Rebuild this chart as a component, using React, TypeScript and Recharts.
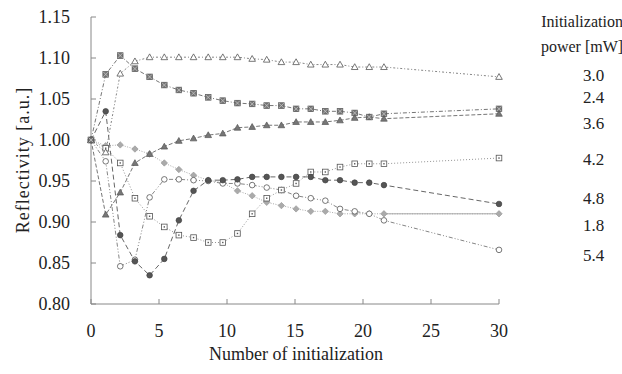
import React from 'react'
import { LineChart, Line, XAxis, YAxis } from 'recharts'

const FONT = "'Liberation Serif', 'Times New Roman', Times, 'DejaVu Serif', serif"

// where each measured point sits on the x axis (runs 0..20, then 30)
const xPos = [0, 1.08, 2.15, 3.23, 4.31, 5.39, 6.46, 7.54, 8.62, 9.69, 10.77, 11.85, 12.92, 14.0, 15.08, 16.16, 17.23, 18.31, 19.39, 20.46, 21.54, 30]

const p30 = [1.0, 0.985, 1.081, 1.096, 1.101, 1.101, 1.101, 1.101, 1.101, 1.101, 1.101, 1.099, 1.098, 1.095, 1.095, 1.092, 1.092, 1.092, 1.089, 1.089, 1.089, 1.077]
const p24 = [1.0, 1.08, 1.103, 1.087, 1.077, 1.067, 1.061, 1.057, 1.052, 1.048, 1.045, 1.044, 1.042, 1.042, 1.038, 1.038, 1.035, 1.035, 1.033, 1.028, 1.032, 1.038]
const p36 = [1.0, 0.909, 0.936, 0.972, 0.983, 0.992, 0.999, 1.002, 1.006, 1.008, 1.015, 1.016, 1.018, 1.018, 1.022, 1.022, 1.022, 1.024, 1.027, 1.028, 1.026, 1.032]
const p42 = [1.0, 0.99, 0.972, 0.929, 0.907, 0.894, 0.884, 0.881, 0.875, 0.875, 0.886, 0.91, 0.929, 0.939, 0.947, 0.961, 0.961, 0.967, 0.971, 0.971, 0.971, 0.978]
const p48 = [1.0, 1.035, 0.884, 0.852, 0.835, 0.855, 0.902, 0.938, 0.951, 0.951, 0.952, 0.955, 0.955, 0.955, 0.955, 0.955, 0.951, 0.951, 0.948, 0.948, 0.945, 0.922]
const p18 = [1.0, 0.993, 0.994, 0.989, 0.983, 0.972, 0.964, 0.957, 0.951, 0.948, 0.938, 0.932, 0.924, 0.92, 0.916, 0.913, 0.913, 0.91, 0.91, 0.91, 0.91, 0.91]
const p54 = [1.0, 0.974, 0.846, 0.854, 0.93, 0.952, 0.952, 0.951, 0.95, 0.947, 0.947, 0.945, 0.942, 0.939, 0.932, 0.929, 0.926, 0.916, 0.913, 0.91, 0.902, 0.866]

const xTicks = [0, 5, 10, 15, 20, 25, 30]
const yTicks = [0.8, 0.85, 0.9, 0.95, 1.0, 1.05, 1.1, 1.15]
const powerLabels = ['3.0', '2.4', '3.6', '4.2', '4.8', '1.8', '5.4']

const data = xPos.map((x, i) => ({
  x,
  p30: p30[i],
  p24: p24[i],
  p36: p36[i],
  p42: p42[i],
  p48: p48[i],
  p18: p18[i],
  // last stretch of the 1.8 mW curve is drawn solid
  p18tail: i >= xPos.length - 2 ? p18[i] : null,
  p54: p54[i],
}))

// text positions for the labels at the right
const labelTop = [75, 97, 123, 159, 198, 225, 255]

const makeDot = (kind: string) => (props: any) => {
  const { cx, cy, index } = props
  if (cx == null || cy == null) return <g key={index} />
  const s = 2.8
  switch (kind) {
    case 'hatchSquare':
      return (
        <g key={index}>
          <rect x={cx - s} y={cy - s} width={s * 2} height={s * 2} fill="#777" stroke="#555" strokeWidth={0.7} />
          <path d={`M${cx - 2.5} ${cy - 2.5}L${cx + 2.5} ${cy + 2.5}M${cx + 2.5} ${cy - 2.5}L${cx - 2.5} ${cy + 2.5}`} stroke="#ccc" strokeWidth={0.7} />
        </g>
      )
    case 'openTri':
      return <polygon key={index} points={`${cx},${cy - 3.3} ${cx + 3.3},${cy + 2.5} ${cx - 3.3},${cy + 2.5}`} fill="#fff" stroke="#555" strokeWidth={0.8} />
    case 'fillTri':
      return <polygon key={index} points={`${cx},${cy - 3.3} ${cx + 3.3},${cy + 2.5} ${cx - 3.3},${cy + 2.5}`} fill="#777" stroke="#555" strokeWidth={0.7} />
    case 'dotSquare':
      return (
        <g key={index}>
          <rect x={cx - s} y={cy - s} width={s * 2} height={s * 2} fill="#fff" stroke="#555" strokeWidth={0.8} />
          <rect x={cx - 0.7} y={cy - 0.7} width={1.4} height={1.4} fill="#555" />
        </g>
      )
    case 'fillCircle':
      return <circle key={index} cx={cx} cy={cy} r={2.8} fill="#555" stroke="#444" strokeWidth={0.7} />
    case 'diamond':
      return <polygon key={index} points={`${cx},${cy - 3.2} ${cx + 3.2},${cy} ${cx},${cy + 3.2} ${cx - 3.2},${cy}`} fill="#aaa" stroke="#999" strokeWidth={0.7} />
    default:
      return <circle key={index} cx={cx} cy={cy} r={2.8} fill="#fff" stroke="#555" strokeWidth={0.8} />
  }
}

const tickStyle = { fontFamily: FONT, fontSize: 18, fill: '#222' }

export default function App() {
  return (
    <div style={{ position: 'absolute', left: 0, top: 0, width: 622, height: 374, background: '#fff', fontFamily: FONT }}>
      <LineChart width={622} height={374} data={data} margin={{ top: 17, right: 123, bottom: 10, left: 0 }}>
        <XAxis
          dataKey="x"
          type="number"
          domain={[0, 30]}
          ticks={xTicks}
          stroke="#888"
          tickSize={-5}
          tickMargin={25}
          height={60}
          tick={tickStyle}
        />
        <YAxis
          type="number"
          domain={[0.8, 1.15]}
          ticks={yTicks}
          tickFormatter={(v: number) => v.toFixed(2)}
          stroke="#888"
          tickSize={-5}
          tickMargin={26}
          width={91}
          tick={tickStyle}
        />
        <Line dataKey="p18" stroke="#aaa" strokeWidth={1} strokeDasharray="1 1.5" dot={makeDot('diamond')} isAnimationActive={false} />
        <Line dataKey="p18tail" stroke="#aaa" strokeWidth={1} dot={false} connectNulls={false} isAnimationActive={false} />
        <Line dataKey="p54" stroke="#777" strokeWidth={0.9} strokeDasharray="4 2 1 2 1 2" dot={makeDot('openCircle')} isAnimationActive={false} />
        <Line dataKey="p42" stroke="#888" strokeWidth={0.9} strokeDasharray="1 2" dot={makeDot('dotSquare')} isAnimationActive={false} />
        <Line dataKey="p48" stroke="#555" strokeWidth={0.9} strokeDasharray="5 3" dot={makeDot('fillCircle')} isAnimationActive={false} />
        <Line dataKey="p36" stroke="#666" strokeWidth={0.9} strokeDasharray="4 2" dot={makeDot('fillTri')} isAnimationActive={false} />
        <Line dataKey="p30" stroke="#777" strokeWidth={0.9} strokeDasharray="2 2 1 2" dot={makeDot('openTri')} isAnimationActive={false} />
        <Line dataKey="p24" stroke="#666" strokeWidth={0.9} strokeDasharray="4 2 1 2" dot={makeDot('hatchSquare')} isAnimationActive={false} />
      </LineChart>
      <svg width={622} height={374} fontFamily={FONT} style={{ position: 'absolute', left: 0, top: 0, pointerEvents: 'none' }}>
        <text x={23} y={160} transform="rotate(-90 23 160)" textAnchor="middle" dominantBaseline="central" fontSize={18} letterSpacing={1} fill="#222">
          Reflectivity [a.u.]
        </text>
        <text x={296} y={354} textAnchor="middle" dominantBaseline="central" fontSize={18} fill="#222">
          Number of initialization
        </text>
        <text x={582} y={21} textAnchor="middle" dominantBaseline="central" fontSize={16} fill="#222">
          Initialization
        </text>
        <text x={582} y={46} textAnchor="middle" dominantBaseline="central" fontSize={16} fill="#222">
          power [mW]
        </text>
        {powerLabels.map((t, i) => (
          <text key={t} x={583} y={labelTop[i]} dominantBaseline="central" fontSize={17} fill="#222">
            {t}
          </text>
        ))}
      </svg>
    </div>
  )
}
